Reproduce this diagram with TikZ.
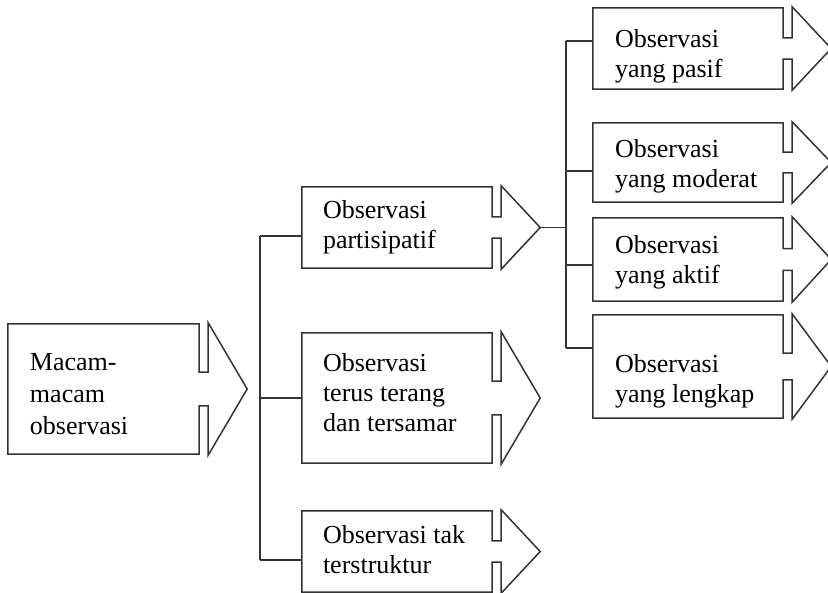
\documentclass[tikz,border=0pt]{standalone}
\usepackage{fontspec}
\setmainfont{Liberation Serif}
\usetikzlibrary{calc}
\tikzstyle{box}=[minimum height=81pt, minimum width=190pt, inner sep=0pt]
\tikzstyle{caption}=[anchor=west, align=left, inner sep=0pt, font=\fontsize{26}{30}\selectfont]
\tikzstyle{outline}=[draw=black!80, line width=1.5pt]
\tikzstyle{link}=[draw=black!80, line width=1.5pt]

% box with a notched arrow head on its right side
\newcommand{\arrowbox}[1]{%
  \draw[outline] (#1.north east) -- (#1.north west) -- (#1.south west) -- (#1.south east)
    -- ($(#1.east)!0.26!(#1.south east)$) -- ++(9,0) -- ($(#1.south east)+(9,1)$)
    -- ($(#1.east)+(48,0)$) -- ($(#1.north east)+(9,-1)$)
    -- ($(#1.east)!0.26!(#1.north east)+(9,0)$) -- ++(-9,0) -- cycle;}

\begin{document}
\begin{tikzpicture}[x=1pt, y=-1pt]
  \useasboundingbox (0,0) rectangle (828,593);

  \node[box, minimum width=191pt, minimum height=130pt] (macam) at (103.5,389) {};
  \node[caption, font=\fontsize{26}{32}\selectfont] (macam text) at ($(macam.west)+(22,5)$) {Macam-\\macam\\observasi};

  \node[box] (partisipatif) at (397,227.5) {};
  \node[box, minimum height=130pt] (terus) at (397,398) {};
  \node[box] (takstruktur) at (397,551.5) {};
  \node[caption] (partisipatif text) at ($(partisipatif.west)+(21,0)$) {Observasi\\partisipatif};
  \node[caption] (terus text) at ($(terus.west)+(21,-5)$) {Observasi\\terus terang\\dan tersamar};
  \node[caption] (takstruktur text) at ($(takstruktur.west)+(21,-2)$) {Observasi tak\\terstruktur};

  \node[box] (pasif) at (688,48.5) {};
  \node[box, minimum height=79pt] (moderat) at (688,162.5) {};
  \node[box, minimum height=83pt] (aktif) at (688,259.5) {};
  \node[box, minimum height=103pt] (lengkap) at (688,366.5) {};
  \node[caption] (pasif text) at ($(pasif.west)+(22,8)$) {Observasi\\yang pasif};
  \node[caption] (moderat text) at ($(moderat.west)+(22,4)$) {Observasi\\yang moderat};
  \node[caption] (aktif text) at ($(aktif.west)+(22,3)$) {Observasi\\yang aktif};
  \node[caption] (lengkap text) at ($(lengkap.west)+(22,15)$) {Observasi\\yang lengkap};

  \foreach \b in {macam, partisipatif, terus, takstruktur, pasif, moderat, aktif, lengkap}
    \arrowbox{\b};

  % left branch
  \coordinate (ltop) at (260,236);
  \coordinate (lbot) at (260,560);
  \draw[link] (ltop) -- (lbot);
  \draw[link] (ltop) -- (ltop -| partisipatif.west);
  \draw[link] (terus.west) -- (terus.west -| ltop);
  \draw[link] (lbot) -- (lbot -| takstruktur.west);

  % right branch
  \coordinate (rtop) at (566,41);
  \coordinate (rbot) at (566,348);
  \draw[link] ($(partisipatif.east)+(48,0)$) -- (partisipatif.east -| rtop);
  \draw[link] (rtop) -- (rbot);
  \draw[link] (rtop) -- (rtop -| pasif.west);
  \draw[link] (566,171) -- (moderat.west |- 566,171);
  \draw[link] (566,265) -- (aktif.west |- 566,265);
  \draw[link] (rbot) -- (rbot -| lengkap.west);
\end{tikzpicture}
\end{document}
